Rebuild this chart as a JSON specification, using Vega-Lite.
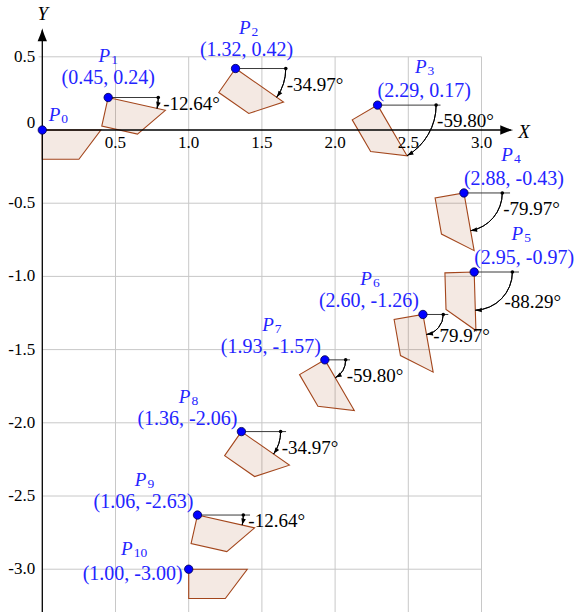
{
"$schema": "https://vega.github.io/schema/vega-lite/v6.json",
"width": 577, "height": 612,
"autosize": {"type": "none"},
"padding": 0,
"background": "white",
"config": {"view": {"stroke": null}, "text": {"font": "Liberation Serif"}},
"resolve": {"scale": {"angle": "independent"}},
"datasets": {
 "grid": [
  {"x":0.5,"x2":0.5,"y":-3.35,"y2":0.5},{"x":1.0,"x2":1.0,"y":-3.35,"y2":0.5},{"x":1.5,"x2":1.5,"y":-3.35,"y2":0.5},
  {"x":2.0,"x2":2.0,"y":-3.35,"y2":0.5},{"x":2.5,"x2":2.5,"y":-3.35,"y2":0.5},{"x":3.0,"x2":3.0,"y":-3.35,"y2":0.5},
  {"x":-0.025,"x2":3.0,"y":0.5,"y2":0.5},{"x":0,"x2":3.0,"y":-0.5,"y2":-0.5},{"x":0,"x2":3.0,"y":-1.0,"y2":-1.0},
  {"x":0,"x2":3.0,"y":-1.5,"y2":-1.5},{"x":0,"x2":3.0,"y":-2.0,"y2":-2.0},{"x":0,"x2":3.0,"y":-2.5,"y2":-2.5},
  {"x":0,"x2":3.0,"y":-3.0,"y2":-3.0}
 ],
 "axes": [{"x":0,"y":0,"x2":3.2,"y2":0},{"x":0,"y":-3.35,"x2":0,"y2":0.68}],
 "heads": [{"x":3.217,"y":0,"dir":0,"t":"X"},{"x":0,"y":0.695,"dir":90,"t":"Y"}],
 "xticks": [{"x":0.5,"y":0,"label":"0.5"},{"x":1.0,"y":0,"label":"1.0"},{"x":1.5,"y":0,"label":"1.5"},{"x":2.0,"y":0,"label":"2.0"},{"x":2.5,"y":0,"label":"2.5"},{"x":3.0,"y":0,"label":"3.0"}],
 "yticks": [{"x":0,"y":0.5,"label":"0.5"},{"x":0,"y":0,"label":"0"},{"x":0,"y":-0.5,"label":"-0.5"},{"x":0,"y":-1.0,"label":"-1.0"},{"x":0,"y":-1.5,"label":"-1.5"},{"x":0,"y":-2.0,"label":"-2.0"},{"x":0,"y":-2.5,"label":"-2.5"},{"x":0,"y":-3.0,"label":"-3.0"}],
 "polys": [
  {"name":"P0","k":0,"x":0,"y":0},{"name":"P0","k":1,"x":0.4,"y":0},{"name":"P0","k":2,"x":0.25,"y":-0.2},{"name":"P0","k":3,"x":0,"y":-0.2},
  {"name":"P1","k":0,"x":0.45,"y":0.222},{"name":"P1","k":1,"x":0.8403,"y":0.1345},{"name":"P1","k":2,"x":0.6502,"y":-0.0279},{"name":"P1","k":3,"x":0.4062,"y":0.0269},
  {"name":"P2","k":0,"x":1.32,"y":0.42},{"name":"P2","k":1,"x":1.6478,"y":0.1907},{"name":"P2","k":2,"x":1.4102,"y":0.1128},{"name":"P2","k":3,"x":1.2054,"y":0.2561},
  {"name":"P3","k":0,"x":2.29,"y":0.17},{"name":"P3","k":1,"x":2.4912,"y":-0.1757},{"name":"P3","k":2,"x":2.2429,"y":-0.1467},{"name":"P3","k":3,"x":2.1171,"y":0.0694},
  {"name":"P4","k":0,"x":2.88,"y":-0.43},{"name":"P4","k":1,"x":2.9497,"y":-0.8239},{"name":"P4","k":2,"x":2.7266,"y":-0.711},{"name":"P4","k":3,"x":2.6831,"y":-0.4648},
  {"name":"P5","k":0,"x":2.95,"y":-0.97},{"name":"P5","k":1,"x":2.9619,"y":-1.3698},{"name":"P5","k":2,"x":2.7576,"y":-1.2259},{"name":"P5","k":3,"x":2.7501,"y":-0.976},
  {"name":"P6","k":0,"x":2.6,"y":-1.26},{"name":"P6","k":1,"x":2.6697,"y":-1.6539},{"name":"P6","k":2,"x":2.4466,"y":-1.541},{"name":"P6","k":3,"x":2.4031,"y":-1.2948},
  {"name":"P7","k":0,"x":1.93,"y":-1.57},{"name":"P7","k":1,"x":2.1312,"y":-1.9157},{"name":"P7","k":2,"x":1.8829,"y":-1.8867},{"name":"P7","k":3,"x":1.7571,"y":-1.6706},
  {"name":"P8","k":0,"x":1.36,"y":-2.06},{"name":"P8","k":1,"x":1.6878,"y":-2.2893},{"name":"P8","k":2,"x":1.4502,"y":-2.3672},{"name":"P8","k":3,"x":1.2454,"y":-2.2239},
  {"name":"P9","k":0,"x":1.06,"y":-2.63},{"name":"P9","k":1,"x":1.4503,"y":-2.7175},{"name":"P9","k":2,"x":1.2602,"y":-2.8799},{"name":"P9","k":3,"x":1.0162,"y":-2.8252},
  {"name":"P10","k":0,"x":1.0,"y":-3.0},{"name":"P10","k":1,"x":1.4,"y":-3.0},{"name":"P10","k":2,"x":1.25,"y":-3.2},{"name":"P10","k":3,"x":1.0,"y":-3.2}
 ],
 "angles": [
  {"name":"P1","x":0.45,"y":0.222,"angle":-12.64,"r":0.342,"xd":0.792,"xe":0.8,"ax":0.7837,"ay":0.1472,"label":"-12.64°"},
  {"name":"P2","x":1.32,"y":0.42,"angle":-34.97,"r":0.343,"xd":1.663,"xe":1.67,"ax":1.6011,"ay":0.2234,"label":"-34.97°"},
  {"name":"P3","x":2.29,"y":0.17,"angle":-59.8,"r":0.4,"xd":2.69,"xe":2.72,"ax":2.4912,"ay":-0.1757,"label":"-59.80°"},
  {"name":"P4","x":2.88,"y":-0.43,"angle":-79.97,"r":0.262,"xd":3.142,"xe":3.195,"ax":2.9256,"ay":-0.688,"label":"-79.97°"},
  {"name":"P5","x":2.95,"y":-0.97,"angle":-88.29,"r":0.261,"xd":3.211,"xe":3.256,"ax":2.9578,"ay":-1.2309,"label":"-88.29°"},
  {"name":"P6","x":2.6,"y":-1.26,"angle":-79.97,"r":0.139,"xd":2.739,"xe":2.773,"ax":2.6242,"ay":-1.3969,"label":"-79.97°"},
  {"name":"P7","x":1.93,"y":-1.57,"angle":-59.8,"r":0.142,"xd":2.072,"xe":2.102,"ax":2.0014,"ay":-1.6927,"label":"-59.80°"},
  {"name":"P8","x":1.36,"y":-2.06,"angle":-34.97,"r":0.268,"xd":1.628,"xe":1.665,"ax":1.5796,"ay":-2.2136,"label":"-34.97°"},
  {"name":"P9","x":1.06,"y":-2.63,"angle":-12.64,"r":0.313,"xd":1.373,"xe":1.419,"ax":1.3654,"ay":-2.6985,"label":"-12.64°"}
 ],
 "points": [
  {"name":"P0","idx":"0","x":0,"y":0,"coord":""},
  {"name":"P1","idx":"1","x":0.45,"y":0.222,"coord":"(0.45, 0.24)"},
  {"name":"P2","idx":"2","x":1.32,"y":0.42,"coord":"(1.32, 0.42)"},
  {"name":"P3","idx":"3","x":2.29,"y":0.17,"coord":"(2.29, 0.17)"},
  {"name":"P4","idx":"4","x":2.88,"y":-0.43,"coord":"(2.88, -0.43)"},
  {"name":"P5","idx":"5","x":2.95,"y":-0.97,"coord":"(2.95, -0.97)"},
  {"name":"P6","idx":"6","x":2.6,"y":-1.26,"coord":"(2.60, -1.26)"},
  {"name":"P7","idx":"7","x":1.93,"y":-1.57,"coord":"(1.93, -1.57)"},
  {"name":"P8","idx":"8","x":1.36,"y":-2.06,"coord":"(1.36, -2.06)"},
  {"name":"P9","idx":"9","x":1.06,"y":-2.63,"coord":"(1.06, -2.63)"},
  {"name":"P10","idx":"10","x":1.0,"y":-3.0,"coord":"(1.00, -3.00)"}
 ]
},
"encoding": {
 "x": {"field":"x","type":"quantitative","scale":{"domain":[-0.2889,3.6523],"nice":false,"zero":false},"axis":null},
 "y": {"field":"y","type":"quantitative","scale":{"domain":[-3.2923,0.888],"nice":false,"zero":false},"axis":null}
},
"layer": [
 {"data":{"name":"grid"},"mark":{"type":"rule","color":"#c8c8c8","strokeWidth":1},
  "encoding":{"x2":{"field":"x2"},"y2":{"field":"y2"}}},
 {"data":{"name":"polys"},"mark":{"type":"line","interpolate":"linear-closed","stroke":"#a3461c","strokeWidth":1.1,"fill":"#a3461c","fillOpacity":0.12},
  "encoding":{"detail":{"field":"name","type":"nominal"},"order":{"field":"k","type":"quantitative"}}},
 {"data":{"name":"axes"},"mark":{"type":"rule","color":"black","strokeWidth":1.3},
  "encoding":{"x2":{"field":"x2"},"y2":{"field":"y2"}}},
 {"data":{"name":"heads"},"mark":{"type":"point","shape":"M0,0 C-0.6,-0.15 -1.4,-0.45 -2,-0.72 L-2,0.72 C-1.4,0.45 -0.6,0.15 0,0 Z","filled":true,"color":"black","opacity":1,"size":169,"strokeWidth":0},
  "encoding":{"angle":{"field":"dir","type":"quantitative","scale":{"domain":[0,360],"range":[0,-360]},"legend":null}}},
 {"data":{"name":"heads"},"transform":[{"filter":"datum.t == 'X'"}],"mark":{"type":"text","fontStyle":"italic","fontSize":19,"align":"left","baseline":"middle","dx":5,"dy":1.5,"color":"black"},
  "encoding":{"text":{"field":"t"}}},
 {"data":{"name":"heads"},"transform":[{"filter":"datum.t == 'Y'"}],"mark":{"type":"text","fontStyle":"italic","fontSize":19,"align":"center","baseline":"middle","dx":0.5,"dy":-14,"color":"black"},
  "encoding":{"text":{"field":"t"}}},
 {"data":{"name":"xticks"},"mark":{"type":"text","fontSize":17,"align":"center","baseline":"middle","dy":13,"color":"black"},
  "encoding":{"text":{"field":"label"}}},
 {"data":{"name":"yticks"},"transform":[{"filter":"datum.y != 0"}],"mark":{"type":"text","fontSize":17,"align":"right","baseline":"middle","dx":-7,"color":"black"},
  "encoding":{"text":{"field":"label"}}},
 {"data":{"name":"yticks"},"transform":[{"filter":"datum.y == 0"}],"mark":{"type":"text","fontSize":17,"align":"right","baseline":"middle","dx":-7,"dy":-7,"color":"black"},
  "encoding":{"text":{"field":"label"}}},
 {"data":{"name":"angles"},"mark":{"type":"rule","color":"#3a3a3a","strokeWidth":1},
  "encoding":{"x2":{"field":"xe"}}},
 {"data":{"name":"angles"},"mark":{"type":"arc","stroke":"black","strokeWidth":1,"fillOpacity":0,"fill":"white"},
  "encoding":{
   "theta":{"field":"angle","type":"quantitative","stack":null,"scale":{"domain":[90,-270],"range":[0,6.283185307179586]}},
   "theta2":{"datum":0},
   "radius":{"field":"r","type":"quantitative","scale":{"type":"linear","domain":[0,1],"range":[0,146.4]}},
   "radius2":{"field":"r"}}},
 {"data":{"name":"angles"},"mark":{"type":"circle","color":"black","opacity":1,"size":13},
  "encoding":{"x":{"field":"xd","type":"quantitative","scale":{"domain":[-0.2889,3.6523],"nice":false,"zero":false},"axis":null}}},
 {"data":{"name":"angles"},"mark":{"type":"point","shape":"M0,0 C-0.6,-0.15 -1.4,-0.45 -2,-0.72 L-2,0.72 C-1.4,0.45 -0.6,0.15 0,0 Z","filled":true,"color":"black","opacity":1,"size":42,"strokeWidth":0},
  "encoding":{
   "x":{"field":"ax","type":"quantitative","scale":{"domain":[-0.2889,3.6523],"nice":false,"zero":false},"axis":null},
   "y":{"field":"ay","type":"quantitative","scale":{"domain":[-3.2923,0.888],"nice":false,"zero":false},"axis":null},
   "angle":{"field":"angle","type":"quantitative","scale":{"domain":[0,-360],"range":[90,450]},"legend":null}}},
 {"data":{"name":"points"},"mark":{"type":"circle","fill":"#0000ff","stroke":"#00004a","strokeWidth":0.8,"size":70,"opacity":1}},
 {"data":{"name":"angles"},"transform":[{"filter":{"field":"name","oneOf":["P1","P9"]}}],"mark":{"type":"text","fontSize":19,"align":"left","baseline":"middle","dx":5,"dy":6,"color":"black"},
  "encoding":{"x":{"field":"xd","type":"quantitative","scale":{"domain":[-0.2889,3.6523],"nice":false,"zero":false},"axis":null},"text":{"field":"label"}}},
 {"data":{"name":"angles"},"transform":[{"filter":{"field":"name","oneOf":["P2","P3","P4","P7","P8"]}}],"mark":{"type":"text","fontSize":19,"align":"left","baseline":"middle","dx":1,"dy":16,"color":"black"},
  "encoding":{"x":{"field":"xd","type":"quantitative","scale":{"domain":[-0.2889,3.6523],"nice":false,"zero":false},"axis":null},"text":{"field":"label"}}},
 {"data":{"name":"angles"},"transform":[{"filter":{"field":"name","oneOf":["P5"]}}],"mark":{"type":"text","fontSize":19,"align":"left","baseline":"middle","dx":-8,"dy":30,"color":"black"},
  "encoding":{"x":{"field":"xd","type":"quantitative","scale":{"domain":[-0.2889,3.6523],"nice":false,"zero":false},"axis":null},"text":{"field":"label"}}},
 {"data":{"name":"angles"},"transform":[{"filter":{"field":"name","oneOf":["P6"]}}],"mark":{"type":"text","fontSize":19,"align":"left","baseline":"middle","dx":-10,"dy":22,"color":"black"},
  "encoding":{"x":{"field":"xd","type":"quantitative","scale":{"domain":[-0.2889,3.6523],"nice":false,"zero":false},"axis":null},"text":{"field":"label"}}},

 {"data":{"name":"points"},"transform":[{"filter":{"field":"name","oneOf":["P1"]}}],"mark":{"type":"text","fontSize":20,"align":"center","baseline":"middle","dx":0,"dy":-20,"color":"#2424ff"},
  "encoding":{"text":{"field":"coord"}}},
 {"data":{"name":"points"},"transform":[{"filter":{"field":"name","oneOf":["P2"]}}],"mark":{"type":"text","fontSize":20,"align":"center","baseline":"middle","dx":11,"dy":-18.5,"color":"#2424ff"},
  "encoding":{"text":{"field":"coord"}}},
 {"data":{"name":"points"},"transform":[{"filter":{"field":"name","oneOf":["P3","P4","P5"]}}],"mark":{"type":"text","fontSize":20,"align":"left","baseline":"middle","dx":0,"dy":-14,"color":"#2424ff"},
  "encoding":{"text":{"field":"coord"}}},
 {"data":{"name":"points"},"transform":[{"filter":{"field":"name","oneOf":["P6","P7","P8","P9"]}}],"mark":{"type":"text","fontSize":20,"align":"right","baseline":"middle","dx":-4,"dy":-13,"color":"#2424ff"},
  "encoding":{"text":{"field":"coord"}}},
 {"data":{"name":"points"},"transform":[{"filter":{"field":"name","oneOf":["P10"]}}],"mark":{"type":"text","fontSize":20,"align":"right","baseline":"middle","dx":-6,"dy":5,"color":"#2424ff"},
  "encoding":{"text":{"field":"coord"}}},

 {"data":{"name":"points"},"transform":[{"filter":{"field":"name","oneOf":["P0"]}}],"mark":{"type":"text","text":"P","fontStyle":"italic","fontSize":19,"align":"right","baseline":"middle","dx":18,"dy":-15,"color":"#2424ff"}},
 {"data":{"name":"points"},"transform":[{"filter":{"field":"name","oneOf":["P0"]}}],"mark":{"type":"text","fontSize":13.5,"align":"left","baseline":"middle","dx":19,"dy":-11,"color":"#2424ff"},
  "encoding":{"text":{"field":"idx"}}},
 {"data":{"name":"points"},"transform":[{"filter":{"field":"name","oneOf":["P1"]}}],"mark":{"type":"text","text":"P","fontStyle":"italic","fontSize":19,"align":"right","baseline":"middle","dx":2,"dy":-42,"color":"#2424ff"}},
 {"data":{"name":"points"},"transform":[{"filter":{"field":"name","oneOf":["P1"]}}],"mark":{"type":"text","fontSize":13.5,"align":"left","baseline":"middle","dx":3,"dy":-38,"color":"#2424ff"},
  "encoding":{"text":{"field":"idx"}}},
 {"data":{"name":"points"},"transform":[{"filter":{"field":"name","oneOf":["P2"]}}],"mark":{"type":"text","text":"P","fontStyle":"italic","fontSize":19,"align":"right","baseline":"middle","dx":15,"dy":-41,"color":"#2424ff"}},
 {"data":{"name":"points"},"transform":[{"filter":{"field":"name","oneOf":["P2"]}}],"mark":{"type":"text","fontSize":13.5,"align":"left","baseline":"middle","dx":16,"dy":-37,"color":"#2424ff"},
  "encoding":{"text":{"field":"idx"}}},
 {"data":{"name":"points"},"transform":[{"filter":{"field":"name","oneOf":["P3","P4","P5"]}}],"mark":{"type":"text","text":"P","fontStyle":"italic","fontSize":19,"align":"right","baseline":"middle","dx":49,"dy":-38,"color":"#2424ff"}},
 {"data":{"name":"points"},"transform":[{"filter":{"field":"name","oneOf":["P3","P4","P5"]}}],"mark":{"type":"text","fontSize":13.5,"align":"left","baseline":"middle","dx":50,"dy":-34,"color":"#2424ff"},
  "encoding":{"text":{"field":"idx"}}},
 {"data":{"name":"points"},"transform":[{"filter":{"field":"name","oneOf":["P6","P7","P8","P9"]}}],"mark":{"type":"text","text":"P","fontStyle":"italic","fontSize":19,"align":"right","baseline":"middle","dx":-51,"dy":-35,"color":"#2424ff"}},
 {"data":{"name":"points"},"transform":[{"filter":{"field":"name","oneOf":["P6","P7","P8","P9"]}}],"mark":{"type":"text","fontSize":13.5,"align":"left","baseline":"middle","dx":-50,"dy":-31,"color":"#2424ff"},
  "encoding":{"text":{"field":"idx"}}},
 {"data":{"name":"points"},"transform":[{"filter":{"field":"name","oneOf":["P10"]}}],"mark":{"type":"text","text":"P","fontStyle":"italic","fontSize":19,"align":"right","baseline":"middle","dx":-56,"dy":-20,"color":"#2424ff"}},
 {"data":{"name":"points"},"transform":[{"filter":{"field":"name","oneOf":["P10"]}}],"mark":{"type":"text","fontSize":13.5,"align":"left","baseline":"middle","dx":-55,"dy":-16,"color":"#2424ff"},
  "encoding":{"text":{"field":"idx"}}}
]
}
